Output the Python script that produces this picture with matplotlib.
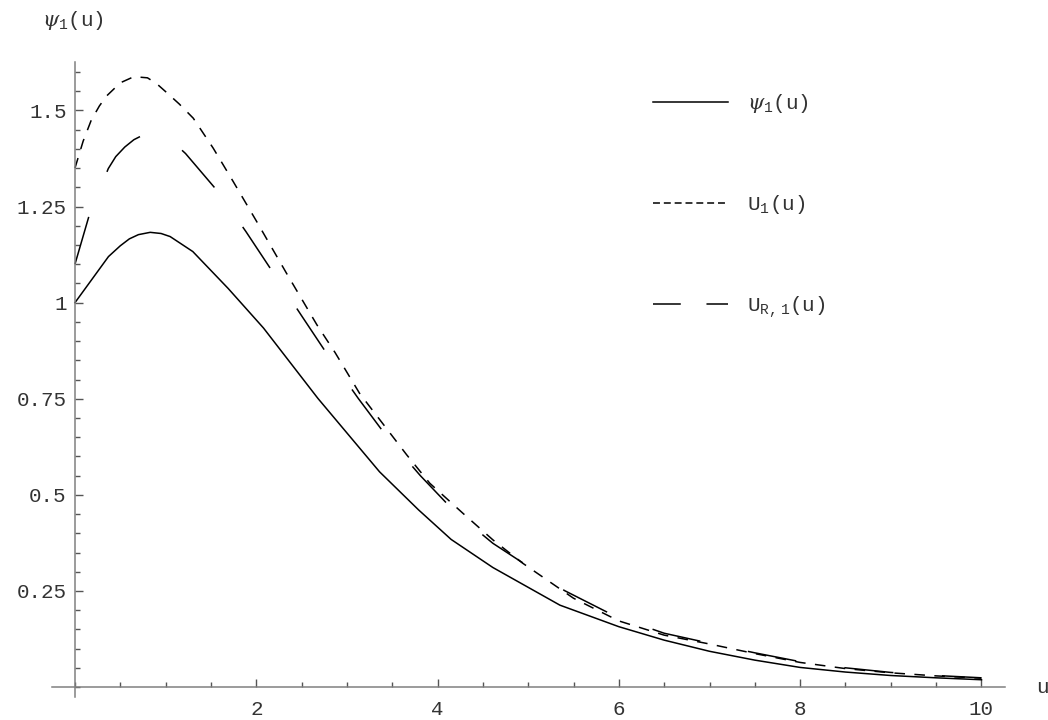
import numpy as np
import matplotlib
matplotlib.use("Agg")
import matplotlib.pyplot as plt
from matplotlib.lines import Line2D
from matplotlib.ticker import MultipleLocator, FixedLocator

plt.rcParams['font.family'] = ['Liberation Mono', 'DejaVu Sans']
plt.rcParams['mathtext.fontset'] = 'custom'
plt.rcParams['mathtext.rm'] = 'Liberation Mono'
plt.rcParams['mathtext.it'] = 'DejaVu Serif:italic'
plt.rcParams['lines.scale_dashes'] = False

# psi_1(u)
u_psi = [0.0, 0.37, 0.5, 0.6, 0.7, 0.83, 0.95, 1.05, 1.3, 1.69, 2.08, 2.68,
         3.36, 3.79, 4.15, 4.61, 5.35, 6.0, 6.5, 7.0, 7.5, 8.0, 8.5, 9.0, 9.5,
         10.0]
psi = [1.0, 1.12, 1.148, 1.166, 1.177, 1.183, 1.180, 1.172, 1.133, 1.037,
       0.934, 0.751, 0.560, 0.461, 0.384, 0.311, 0.213, 0.157, 0.122, 0.093,
       0.070, 0.051, 0.039, 0.030, 0.024, 0.019]

# U_1(u)
u_U = [0.0, 0.09, 0.18, 0.27, 0.35, 0.5, 0.65, 0.8, 0.9, 1.01, 1.15, 1.305,
       1.525, 1.746, 2.0, 2.335, 2.67, 2.87, 3.14, 3.66, 3.915, 4.28, 4.61,
       4.94, 5.5, 6.0, 6.5, 7.0, 7.5, 8.0, 8.5, 9.0, 9.5, 10.0]
U1 = [1.35, 1.420, 1.475, 1.512, 1.538, 1.572, 1.588, 1.585, 1.570, 1.547,
      1.517, 1.48, 1.402, 1.315, 1.213, 1.076, 0.942, 0.870, 0.764, 0.604,
      0.530, 0.452, 0.383, 0.322, 0.231, 0.172, 0.135, 0.112, 0.087, 0.064,
      0.048, 0.037, 0.029, 0.023]

# U_{R,1}(u)
u_UR = [0.0, 0.158, 0.368, 0.45, 0.55, 0.65, 0.742, 0.9, 1.05, 1.22, 1.574,
        1.886, 2.195, 2.5, 2.805, 3.125, 3.455, 3.81, 4.19, 4.61, 4.98, 5.4,
        5.97, 6.5, 7.0, 7.5, 8.0, 8.5, 9.0, 9.5, 10.0]
UR1 = [1.10, 1.228, 1.349, 1.380, 1.405, 1.424, 1.435, 1.443, 1.425, 1.388,
       1.29, 1.185, 1.075, 0.966, 0.858, 0.751, 0.647, 0.550, 0.456, 0.374,
       0.317, 0.251, 0.183, 0.140, 0.114, 0.089, 0.066, 0.050, 0.038, 0.030,
       0.024]

labels = [r'$\psi_1$(u)', r'U$_1$(u)', r'U$_{\mathrm{R,1}}$(u)']

fig = plt.figure(figsize=(10.48, 7.2), dpi=100)
ax = fig.add_axes([0.0499, 0.0319, 0.9091, 0.8819])

lw = 1.1
ax.plot(u_psi, psi, color='k', lw=lw)
ax.plot(u_U, U1, color='k', lw=lw, linestyle=(0, (7.6, 6.8)))
ax.plot(u_UR, UR1, color='k', lw=lw, linestyle=(0, (35.5, 35.0)))

ax.set_xlim(-0.25, 10.26)
ax.set_ylim(-0.026, 1.626)

for side in ('top', 'right'):
    ax.spines[side].set_visible(False)
for side in ('left', 'bottom'):
    ax.spines[side].set_position(('data', 0))
    ax.spines[side].set_color('#808080')
    ax.spines[side].set_linewidth(1.1)

ax.xaxis.set_major_locator(FixedLocator([2, 4, 6, 8, 10]))
ax.xaxis.set_minor_locator(MultipleLocator(0.5))
ax.yaxis.set_major_locator(FixedLocator([0.25, 0.5, 0.75, 1.0, 1.25, 1.5]))
ax.yaxis.set_minor_locator(MultipleLocator(0.05))
ax.set_yticklabels(['0.25', '0.5', '0.75', '1', '1.25', '1.5'])

ax.tick_params(which='major', direction='in', length=5.5, width=1.0,
               color='#555555', labelsize=15, labelcolor='#333333', pad=6)
ax.tick_params(which='minor', direction='in', length=3.5, width=1.0,
               color='#555555')
ax.tick_params(axis='x', pad=9)

ax.text(-0.36, 1.735, r'$\psi_1$(u)', fontsize=15, ha='left', va='center',
        color='#333333', clip_on=False)
ax.text(10.6, 0.0, 'u', fontsize=15, ha='left', va='center', color='#333333',
        clip_on=False)

handles = [Line2D([], [], color='k', lw=lw),
           Line2D([], [], color='k', lw=lw, linestyle=(0, (5.0, 2.8))),
           Line2D([], [], color='k', lw=lw, linestyle=(0, (20.0, 18.5)))]
leg = ax.legend(handles, labels, loc='upper left',
                bbox_to_anchor=(0.6235, 0.872), bbox_transform=fig.transFigure,
                frameon=False, fontsize=15, handlelength=3.6,
                handletextpad=0.9, labelspacing=3.75, borderpad=0,
                borderaxespad=0)
for t in leg.get_texts():
    t.set_color('#333333')

fig.savefig('out.png', dpi=100, facecolor='white')
